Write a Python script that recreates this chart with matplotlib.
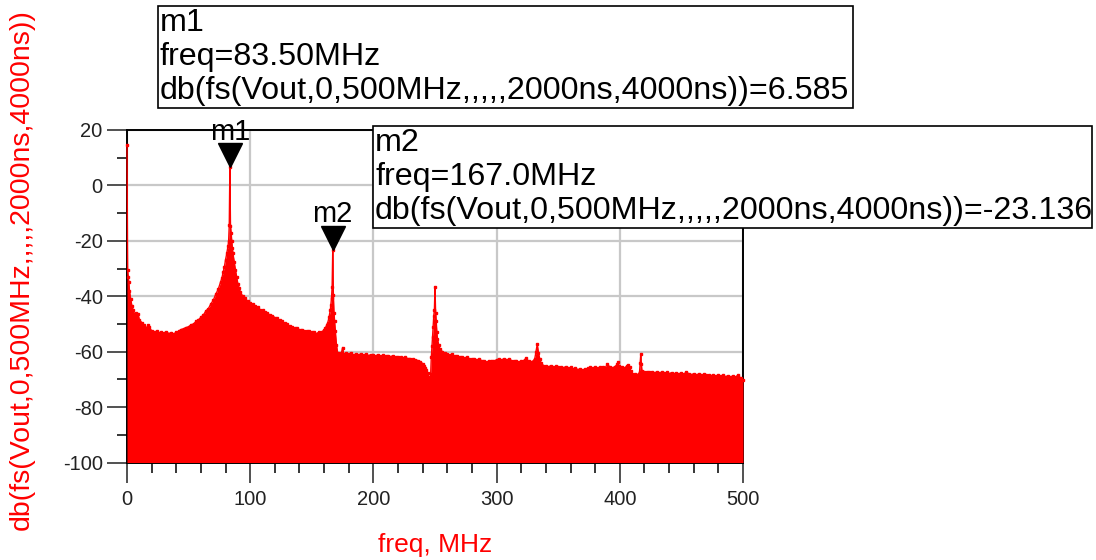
import matplotlib
matplotlib.use("Agg")
import matplotlib.pyplot as plt
from matplotlib.patches import Rectangle
from matplotlib.transforms import offset_copy
from matplotlib.ticker import MultipleLocator

# spectrum: freq (MHz) vs db(fs(Vout,...))
freq = [
    0, 0.5, 1, 1.5, 2, 3, 4, 5, 6, 7, 8, 9, 10, 12, 14, 16, 17, 18, 20, 22, 24, 26, 28, 30,
    32, 34, 36, 38, 40, 42, 44, 46, 48, 50, 52, 54, 56, 58, 60, 62, 64, 66, 68, 70, 72, 74,
    76, 77, 78, 79, 80, 81, 82, 82.5, 83, 83.5, 84, 84.5, 85, 85.5, 86, 87, 88, 89, 90, 91,
    92, 94, 96, 98, 100, 102, 104, 106, 108, 110, 112, 114, 116, 118, 120, 122, 124, 126,
    128, 130, 132, 134, 136, 138, 140, 142, 144, 146, 148, 150, 152, 154, 156, 158, 160,
    161, 162, 163, 164, 165, 165.5, 166, 166.5, 167, 167.5, 168, 168.5, 169, 170, 171, 172,
    173, 174, 175, 176, 178, 180, 182, 184, 186, 188, 190, 192, 194, 196, 198, 200, 202,
    204, 206, 208, 210, 212, 214, 216, 218, 220, 222, 224, 226, 228, 230, 232, 234, 236,
    238, 240, 241, 242, 243, 244, 245, 246, 246.5, 247, 247.5, 248, 248.5, 249, 249.5, 250,
    250.5, 251, 251.5, 252, 253, 254, 256, 258, 260, 262, 264, 266, 268, 270, 272, 274,
    276, 278, 280, 282, 284, 286, 288, 290, 292, 294, 296, 298, 300, 302, 304, 306, 308,
    310, 312, 314, 316, 318, 320, 322, 324, 326, 328, 330, 331, 332, 333, 334, 335, 336,
    338, 340, 342, 344, 346, 348, 350, 352, 354, 356, 358, 360, 362, 364, 366, 368, 370,
    372, 374, 376, 378, 380, 382, 384, 386, 388, 390, 392, 394, 396, 398, 398.5, 399, 400,
    402, 404, 406, 407, 408, 409, 410, 412, 414, 416, 416.5, 417, 417.5, 418, 420, 422,
    424, 426, 428, 430, 432, 434, 436, 438, 440, 442, 444, 446, 448, 450, 452, 454, 456,
    458, 460, 462, 464, 466, 468, 470, 472, 474, 476, 478, 480, 482, 484, 486, 488, 490,
    492, 494, 496, 498, 500,
]
db_vout = [
    14.6, -30.5, -33.0, -35.0, -38.0, -41.0, -43.5, -45.0, -46.5, -46.0, -47.5, -46.5, -48.5,
    -49.5, -50.5, -51.5, -50.3, -51.0, -52.5, -53.0, -52.6, -53.2, -52.9, -53.3, -52.8, -53.5,
    -53.1, -53.6, -53.0, -52.6, -52.0, -51.7, -51.3, -51.0, -50.3, -50.0, -49.1, -48.5, -47.6,
    -46.8, -45.3, -44.5, -42.8, -41.5, -39.3, -37.5, -34.8, -33.5, -31.3, -29.5, -26.8, -24.5,
    -21.8, -20.0, -14.2, 6.585, -14.5, -17.0, -20.0, -22.5, -24.5, -27.5, -30.5, -33.0, -35.5,
    -37.0, -38.5, -40.0, -40.8, -41.8, -42.5, -42.8, -43.6, -44.0, -44.8, -45.1, -45.8, -46.1,
    -46.8, -47.0, -47.7, -48.0, -48.7, -49.1, -49.8, -50.1, -50.8, -51.0, -51.5, -51.6, -52.1,
    -52.0, -52.5, -52.6, -52.7, -53.0, -53.0, -53.5, -52.8, -52.8, -52.3, -51.5, -50.5, -49.5,
    -47.5, -45.0, -43.0, -40.5, -36.5, -23.136, -39.5, -46.0, -49.0, -52.5, -57.5, -60.5, -61.3,
    -61.0, -60.5, -58.5, -61.0, -60.6, -61.0, -60.5, -61.2, -60.8, -61.1, -60.9, -61.3, -60.9,
    -61.4, -61.1, -61.3, -61.5, -61.1, -61.6, -61.3, -61.7, -61.4, -61.8, -61.5, -62.0, -61.8,
    -62.1, -62.3, -62.1, -62.5, -62.5, -62.8, -62.9, -63.2, -63.6, -64.3, -65.0, -65.8, -66.7,
    -67.8, -69.0, -70.3, -68.0, -62.0, -58.0, -54.7, -51.0, -47.0, -45.0, -36.5, -46.0, -49.0,
    -53.0, -55.5, -57.5, -59.0, -60.0, -60.5, -61.0, -61.3, -61.0, -61.7, -61.6, -62.0, -62.1,
    -62.4, -62.1, -62.6, -62.8, -62.5, -63.0, -62.7, -63.3, -63.5, -63.8, -63.4, -63.2, -63.5,
    -62.9, -62.7, -63.0, -62.6, -63.0, -62.7, -63.2, -63.5, -63.2, -63.8, -63.5, -63.2, -62.3,
    -63.5, -63.8, -63.2, -62.5, -60.0, -57.3, -60.5, -62.5, -64.0, -65.0, -65.2, -65.5, -65.1,
    -65.6, -65.3, -65.7, -65.4, -65.8, -65.5, -66.0, -65.7, -66.2, -65.9, -66.5, -66.2, -66.7,
    -66.4, -66.0, -65.7, -66.0, -65.6, -66.0, -65.7, -65.4, -65.9, -64.5, -65.6, -65.9, -65.4,
    -64.6, -63.7, -65.0, -65.8, -65.4, -65.9, -65.0, -64.8, -65.5, -67.0, -68.0, -68.2, -68.5,
    -67.5, -64.0, -61.0, -64.5, -67.0, -67.2, -67.3, -67.5, -67.3, -67.6, -67.4, -67.7, -67.4,
    -67.8, -67.5, -67.9, -67.6, -68.0, -67.7, -68.0, -67.8, -68.2, -67.3, -68.0, -68.3, -68.0,
    -68.4, -68.1, -68.5, -68.2, -68.6, -68.3, -68.7, -68.4, -68.8, -68.5, -68.9, -68.6, -69.0,
    -68.7, -69.1, -68.8, -69.2, -68.4, -69.5, -70.2,
]

# marker readouts
marker_names = ["m1", "m2"]
marker_freq = [83.5, 167.0]
marker_db = [6.585, -23.136]
marker_freq_text = ["83.50MHz", "167.0MHz"]
marker_db_text = ["6.585", "-23.136"]

EXPR = "db(fs(Vout,0,500MHz,,,,,2000ns,4000ns))"
RED = "#ff0000"
W, H = 1096, 560

plt.rcParams["font.family"] = ["Liberation Sans", "DejaVu Sans"]
plt.rcParams["axes.unicode_minus"] = False


def fx(x):
    return x / W


def fy(y):
    return 1 - y / H


fig = plt.figure(figsize=(W / 100, H / 100), dpi=100)
ax = fig.add_axes([fx(127), fy(462.5), (743 - 127) / W, (462.5 - 130) / H])

ax.fill_between(freq, db_vout, -100, color=RED, lw=0, zorder=3)
ax.plot(freq, db_vout, color=RED, lw=1.0, marker="s", ms=1.8, zorder=3.5,
        clip_on=False)

ax.set_xlim(0, 500)
ax.set_ylim(-100, 20)
ax.xaxis.set_major_locator(MultipleLocator(100))
ax.xaxis.set_minor_locator(MultipleLocator(20))
ax.yaxis.set_major_locator(MultipleLocator(20))
ax.yaxis.set_minor_locator(MultipleLocator(10))
ax.tick_params(which="major", length=14.5, width=1.1, labelsize=14.5, pad=3, colors="#222222")
ax.tick_params(which="minor", length=7.2, width=1.1)
ax.tick_params(axis="x", which="major", pad=5)
ax.grid(True, which="major", color="#c8c8c8", lw=1.6)
ax.set_axisbelow(True)
for s in ax.spines.values():
    s.set_linewidth(1.4)
    s.set_zorder(2)

# marker triangles with names
for name, f, v in zip(marker_names, marker_freq, marker_db):
    tr = offset_copy(ax.transData, fig=fig, y=8.6, units="points")
    ax.plot([f], [v], marker="v", ms=17.5, color="black", transform=tr,
            clip_on=False, zorder=6)
    ax.annotate(name, xy=(f, v), xytext=(0, 19.5), textcoords="offset points",
                ha="center", va="baseline", fontsize=21, zorder=6,
                annotation_clip=False)

# readout boxes
boxes = [(158, 6, 853, 108), (373, 126, 1092, 228)]
for (x0, y0, x1, y1), name, ft, dt in zip(boxes, marker_names, marker_freq_text, marker_db_text):
    fig.add_artist(Rectangle((fx(x0), fy(y1)), (x1 - x0) / W, (y1 - y0) / H,
                             transform=fig.transFigure, facecolor="white",
                             edgecolor="black", lw=1.2, zorder=10))
    lines = [name, "freq=" + ft, EXPR + "=" + dt]
    for i, t in enumerate(lines):
        fig.text(fx(x0 + 2), fy(y0 + 17 + 34 * i), t, fontsize=23.2,
                 ha="left", va="center", zorder=11)

fig.text(fx(22), fy(270), EXPR, rotation=90, fontsize=20.5, color=RED,
         ha="center", va="center")
fig.text(fx(435), fy(545), "freq, MHz", fontsize=19, color=RED,
         ha="center", va="center")

fig.savefig("out.png", dpi=100)
